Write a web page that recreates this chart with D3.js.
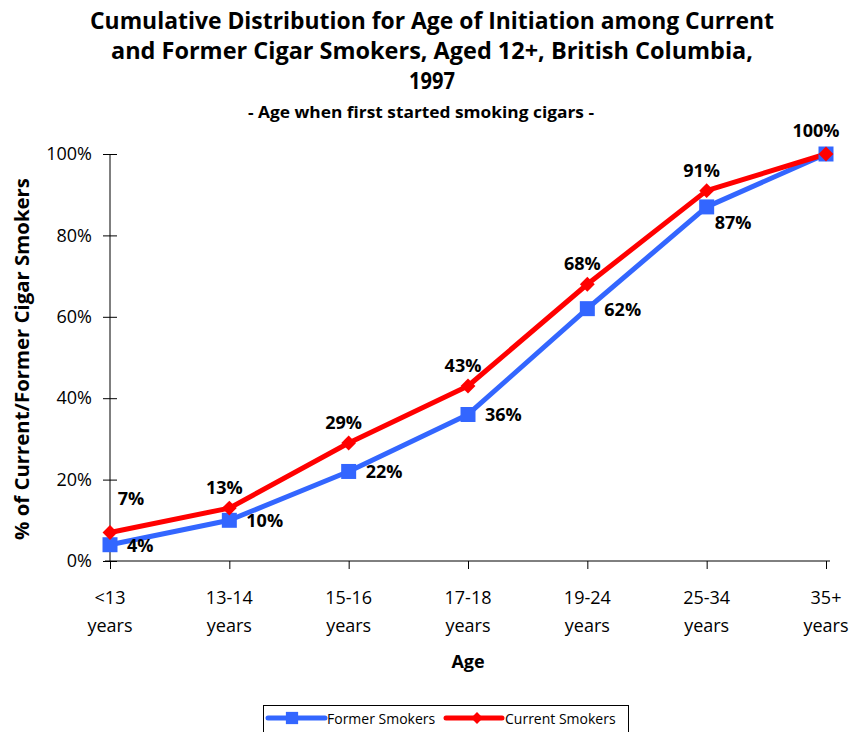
<!DOCTYPE html>
<html><head><meta charset="utf-8">
<script src="https://cdn.jsdelivr.net/npm/d3@7/dist/d3.min.js"></script>
<style>
body{margin:0;background:#fff;}
text{font-family:"Open Sans","DejaVu Sans",sans-serif;}
</style></head>
<body><svg id="c" width="852" height="732"></svg>
<script>
const categories = ["<13|years","13-14|years","15-16|years","17-18|years","19-24|years","25-34|years","35+|years"];
const formerSmokers = [4,10,22,36,62,87,100];
const currentSmokers = [7,13,29,43,68,91,100];
const yTicks = [0,20,40,60,80,100];
const titleLines = ["Cumulative Distribution for Age of Initiation among Current","and Former Cigar Smokers, Aged 12+, British Columbia,","1997"];
const subtitle = "- Age when first started smoking cigars -";

const svg = d3.select("#c");
const blue = "#3366ff", red = "#ff0000";
const x = d3.scalePoint().domain(categories).range([110, 826]);
const y = d3.scaleLinear().domain([0,100]).range([561, 154]);

// title
const tt = svg.selectAll(".t").data(titleLines).enter().append("text")
  .attr("x", 432).attr("y", (d,i)=>29 + i*30).attr("text-anchor","middle")
  .style("font-size","23px").style("font-weight","bold").text(d=>d);
tt.filter((d,i)=>i===0).attr("textLength",684).attr("lengthAdjust","spacingAndGlyphs");
tt.filter((d,i)=>i===1).attr("textLength",642).attr("lengthAdjust","spacingAndGlyphs");
tt.filter((d,i)=>i===2).attr("textLength",46).attr("lengthAdjust","spacingAndGlyphs");
svg.append("text").attr("x",421).attr("y",118).attr("text-anchor","middle")
  .style("font-size","16px").style("font-weight","bold")
  .attr("textLength",346).attr("lengthAdjust","spacingAndGlyphs").text(subtitle);

// y axis
const yAxis = d3.axisLeft(y).tickValues(yTicks).tickFormat(d=>d+"%").tickSize(7).tickPadding(11);
const gy = svg.append("g").attr("transform","translate(110,0)").call(yAxis);
gy.select(".domain").attr("d","M0,"+y(100)+"V"+y(0)).attr("stroke","#000");
gy.selectAll(".tick line").attr("x1",-7).attr("x2",7).attr("stroke","#000");
gy.selectAll(".tick text").style("font-size","18px").attr("fill","#000").style("font-family","'Open Sans',sans-serif");

// x axis
const xAxis = d3.axisBottom(x).tickSize(8).tickFormat("");
const gx = svg.append("g").attr("transform","translate(0,561)").call(xAxis);
gx.select(".domain").attr("d","M105,0H830").attr("stroke","#000");
gx.selectAll(".tick line").attr("stroke","#000");
categories.forEach(c=>{
  const parts=c.split("|");
  parts.forEach((p,i)=>{
    svg.append("text").attr("x",x(c)).attr("y",604+i*28).attr("text-anchor","middle")
      .style("font-size","18px").text(p);
  });
});
svg.append("text").attr("x",468).attr("y",668).attr("text-anchor","middle")
  .style("font-size","18px").style("font-weight","bold").text("Age");
svg.append("text").attr("transform","translate(29,359) rotate(-90)").attr("text-anchor","middle")
  .style("font-size","19px").style("font-weight","bold")
  .attr("textLength",362).attr("lengthAdjust","spacingAndGlyphs").text("% of Current/Former Cigar Smokers");

// lines
const line = d3.line().x((d,i)=>x(categories[i])).y(d=>y(d));
svg.append("path").datum(formerSmokers).attr("d",line).attr("fill","none").attr("stroke",blue).attr("stroke-width",5).attr("stroke-linejoin","round");
svg.append("path").datum(currentSmokers).attr("d",line).attr("fill","none").attr("stroke",red).attr("stroke-width",5).attr("stroke-linejoin","round");
const sq = d3.symbol().type(d3.symbolSquare).size(225);
const dm = d3.symbol().type(d3.symbolSquare).size(110);
svg.selectAll(".fm").data(formerSmokers).enter().append("path")
  .attr("d",sq).attr("fill",blue).attr("transform",(d,i)=>`translate(${x(categories[i])},${y(d)})`);
svg.selectAll(".cm").data(currentSmokers).enter().append("path")
  .attr("d",dm).attr("fill",red).attr("transform",(d,i)=>`translate(${x(categories[i])},${y(d)}) rotate(45)`);

// labels
svg.selectAll(".fl").data(formerSmokers.slice(0,6)).enter().append("text")
  .attr("x",(d,i)=>x(categories[i])+ (i===5?8:17)).attr("y",(d,i)=>y(d)+(i===5?22:7))
  .style("font-size","18px").style("font-weight","bold").text(d=>d+"%");
svg.selectAll(".cl").data(currentSmokers).enter().append("text")
  .attr("x",(d,i)=>x(categories[i])+(i===0?21:i===6?-10:-5)).attr("y",(d,i)=>y(d)-(i===0?28:i===6?17:14))
  .attr("text-anchor","middle")
  .style("font-size","18px").style("font-weight","bold").text(d=>d+"%");

// legend
const lg = svg.append("g");
lg.append("rect").attr("x",263.5).attr("y",705.5).attr("width",365).attr("height",30).attr("fill","#fff").attr("stroke","#000");
lg.append("line").attr("x1",268).attr("x2",325).attr("y1",718).attr("y2",718).attr("stroke",blue).attr("stroke-width",5).attr("stroke-linecap","round");
lg.append("path").attr("d",d3.symbol().type(d3.symbolSquare).size(150)).attr("fill",blue).attr("transform","translate(292,718)");
lg.append("text").attr("x",327).attr("y",723.5).style("font-size","14px").text("Former Smokers");
lg.append("line").attr("x1",446).attr("x2",502).attr("y1",718).attr("y2",718).attr("stroke",red).attr("stroke-width",5).attr("stroke-linecap","round");
lg.append("path").attr("d",d3.symbol().type(d3.symbolSquare).size(70)).attr("fill",red).attr("transform","translate(477,718) rotate(45)");
lg.append("text").attr("x",505).attr("y",723.5).style("font-size","14px").text("Current Smokers");
</script></body></html>
